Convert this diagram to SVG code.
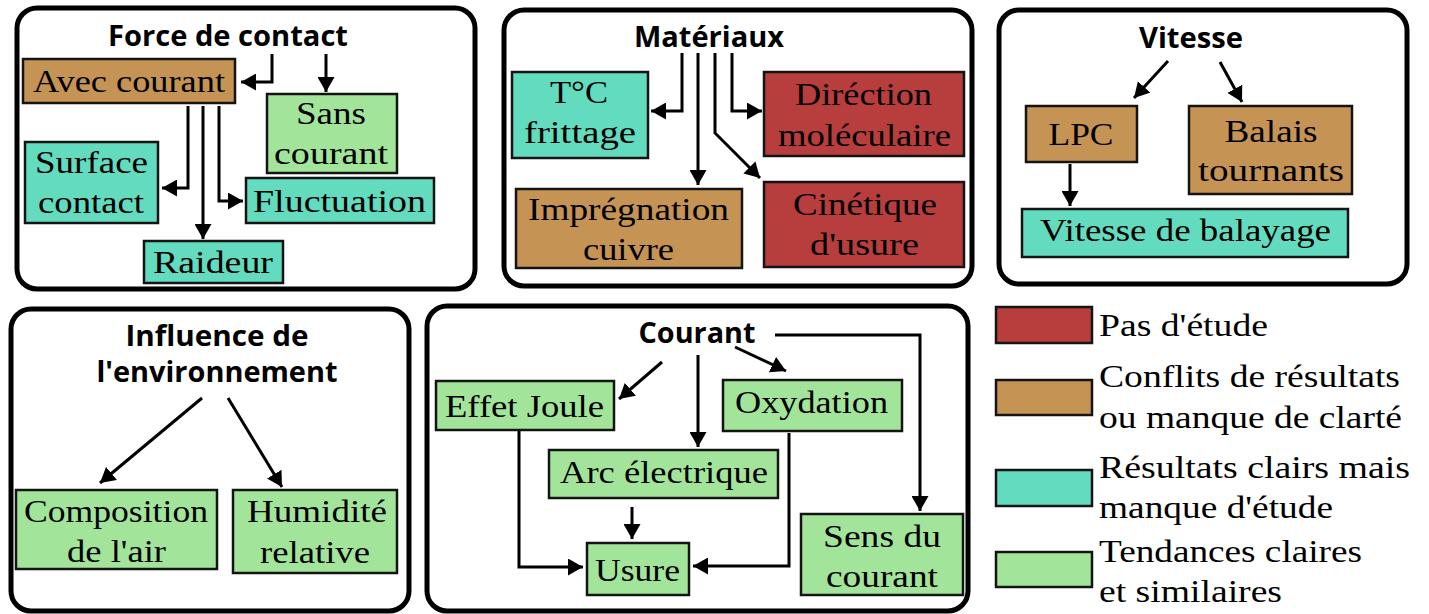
<svg xmlns="http://www.w3.org/2000/svg" width="1429" height="614" viewBox="0 0 1429 614">
<defs>
<style>
.panel{fill:#fff;stroke:#000;stroke-width:5}
.box{stroke:#141414;stroke-width:2.5}
.red{fill:#B83D3D}.brown{fill:#C59353}.teal{fill:#62DBBF}.green{fill:#A2E59A}
.t{font-family:"Liberation Serif","Times New Roman",serif;font-size:31px;fill:#000;text-anchor:middle}
.l{font-family:"Liberation Serif","Times New Roman",serif;font-size:31px;fill:#000}
.h{font-family:"Open Sans","Noto Sans","DejaVu Sans",sans-serif;font-size:28px;font-weight:700;fill:#000;text-anchor:middle}
.c{fill:none;stroke:#000;stroke-width:3;marker-end:url(#ah)}
</style>
<marker id="ah" markerUnits="userSpaceOnUse" markerWidth="16" markerHeight="17" refX="15" refY="8.5" orient="auto">
<path d="M0,0 L15,8.5 L0,17 z" fill="#000"/>
</marker>
</defs>
<rect width="1429" height="614" fill="#fff"/>

<g id="panel-force">
<rect class="panel" x="17" y="8" width="458" height="281" rx="20"/>
<text class="h" x="228" y="46" textLength="240" lengthAdjust="spacingAndGlyphs">Force de contact</text>
</g>
<g id="panel-materiaux">
<rect class="panel" x="504" y="10" width="468" height="276" rx="20"/>
<text class="h" x="709" y="47" textLength="150" lengthAdjust="spacingAndGlyphs">Matériaux</text>
</g>
<g id="panel-vitesse">
<rect class="panel" x="999" y="10" width="408" height="274" rx="20"/>
<text class="h" x="1191" y="48" textLength="104" lengthAdjust="spacingAndGlyphs">Vitesse</text>
</g>
<g id="panel-environnement">
<rect class="panel" x="11" y="309" width="398" height="302" rx="20"/>
<text class="h" x="217" y="346" textLength="183" lengthAdjust="spacingAndGlyphs">Influence de</text>
<text class="h" x="217" y="382" textLength="241" lengthAdjust="spacingAndGlyphs">l'environnement</text>
</g>
<g id="panel-courant">
<rect class="panel" x="427" y="306" width="541" height="305" rx="20"/>
<text class="h" x="697" y="343" textLength="117" lengthAdjust="spacingAndGlyphs">Courant</text>
</g>

<g id="n-avec-courant"><rect class="box brown" x="23" y="59" width="212" height="44"/><text class="t" x="129" y="92" textLength="192" lengthAdjust="spacingAndGlyphs">Avec courant</text></g>
<g id="n-sans-courant"><rect class="box green" x="267" y="94" width="130" height="79"/><text class="t" x="331" y="124" textLength="70" lengthAdjust="spacingAndGlyphs">Sans</text><text class="t" x="331" y="164" textLength="114" lengthAdjust="spacingAndGlyphs">courant</text></g>
<g id="n-surface-contact"><rect class="box teal" x="25" y="142" width="133" height="81"/><text class="t" x="91.5" y="173" textLength="113" lengthAdjust="spacingAndGlyphs">Surface</text><text class="t" x="91" y="213" textLength="106" lengthAdjust="spacingAndGlyphs">contact</text></g>
<g id="n-fluctuation"><rect class="box teal" x="246" y="178" width="188" height="45"/><text class="t" x="339.5" y="212" textLength="173" lengthAdjust="spacingAndGlyphs">Fluctuation</text></g>
<g id="n-raideur"><rect class="box teal" x="144" y="241" width="139" height="42"/><text class="t" x="213" y="273" textLength="120" lengthAdjust="spacingAndGlyphs">Raideur</text></g>

<g id="n-tc-frittage"><rect class="box teal" x="512" y="72" width="136" height="86"/><text class="t" x="579" y="103" textLength="58" lengthAdjust="spacingAndGlyphs">T°C</text><text class="t" x="580" y="143" textLength="112" lengthAdjust="spacingAndGlyphs">frittage</text></g>
<g id="n-direction"><rect class="box red" x="764" y="72" width="200" height="84"/><text class="t" x="863.5" y="105" textLength="137" lengthAdjust="spacingAndGlyphs">Diréction</text><text class="t" x="864.5" y="146" textLength="173" lengthAdjust="spacingAndGlyphs">moléculaire</text></g>
<g id="n-impregnation"><rect class="box brown" x="516" y="189" width="226" height="79"/><text class="t" x="628.5" y="220" textLength="201" lengthAdjust="spacingAndGlyphs">Imprégnation</text><text class="t" x="628.5" y="260" textLength="91" lengthAdjust="spacingAndGlyphs">cuivre</text></g>
<g id="n-cinetique"><rect class="box red" x="764" y="182" width="200" height="85"/><text class="t" x="865" y="215" textLength="144" lengthAdjust="spacingAndGlyphs">Cinétique</text><text class="t" x="864.5" y="255" textLength="109" lengthAdjust="spacingAndGlyphs">d'usure</text></g>

<g id="n-lpc"><rect class="box brown" x="1026" y="106" width="111" height="56"/><text class="t" x="1081" y="145" textLength="65" lengthAdjust="spacingAndGlyphs">LPC</text></g>
<g id="n-balais"><rect class="box brown" x="1189" y="106" width="163" height="88"/><text class="t" x="1271" y="142" textLength="93" lengthAdjust="spacingAndGlyphs">Balais</text><text class="t" x="1271" y="181" textLength="146" lengthAdjust="spacingAndGlyphs">tournants</text></g>
<g id="n-vitesse-balayage"><rect class="box teal" x="1022" y="209" width="326" height="48"/><text class="t" x="1185.5" y="241" textLength="291" lengthAdjust="spacingAndGlyphs">Vitesse de balayage</text></g>

<g id="n-composition"><rect class="box green" x="16" y="490" width="201" height="79"/><text class="t" x="116" y="522" textLength="184" lengthAdjust="spacingAndGlyphs">Composition</text><text class="t" x="116.5" y="562" textLength="99" lengthAdjust="spacingAndGlyphs">de l'air</text></g>
<g id="n-humidite"><rect class="box green" x="233" y="490" width="164" height="83"/><text class="t" x="317" y="522" textLength="140" lengthAdjust="spacingAndGlyphs">Humidité</text><text class="t" x="315" y="563" textLength="110" lengthAdjust="spacingAndGlyphs">relative</text></g>

<g id="n-effet-joule"><rect class="box green" x="436" y="381" width="178" height="49"/><text class="t" x="524.5" y="417" textLength="159" lengthAdjust="spacingAndGlyphs">Effet Joule</text></g>
<g id="n-arc"><rect class="box green" x="549" y="450" width="229" height="48"/><text class="t" x="664" y="483" textLength="208" lengthAdjust="spacingAndGlyphs">Arc électrique</text></g>
<g id="n-oxydation"><rect class="box green" x="723" y="380" width="179" height="51"/><text class="t" x="811.5" y="413" textLength="153" lengthAdjust="spacingAndGlyphs">Oxydation</text></g>
<g id="n-usure"><rect class="box green" x="587" y="543" width="102" height="52"/><text class="t" x="637.5" y="581" textLength="85" lengthAdjust="spacingAndGlyphs">Usure</text></g>
<g id="n-sens"><rect class="box green" x="801" y="514" width="162" height="81"/><text class="t" x="882" y="547" textLength="118" lengthAdjust="spacingAndGlyphs">Sens du</text><text class="t" x="882" y="587" textLength="112" lengthAdjust="spacingAndGlyphs">courant</text></g>

<g id="legend">
<rect class="box red" x="996" y="307" width="96" height="36"/>
<text class="l" x="1099" y="336" textLength="169" lengthAdjust="spacingAndGlyphs">Pas d'étude</text>
<rect class="box brown" x="996" y="380" width="96" height="35"/>
<text class="l" x="1099" y="387" textLength="301" lengthAdjust="spacingAndGlyphs">Conflits de résultats</text>
<text class="l" x="1099" y="428" textLength="303" lengthAdjust="spacingAndGlyphs">ou manque de clarté</text>
<rect class="box teal" x="996" y="470" width="96" height="36"/>
<text class="l" x="1099" y="478" textLength="311" lengthAdjust="spacingAndGlyphs">Résultats clairs mais</text>
<text class="l" x="1099" y="518" textLength="234" lengthAdjust="spacingAndGlyphs">manque d'étude</text>
<rect class="box green" x="996" y="552" width="96" height="35"/>
<text class="l" x="1099" y="562" textLength="263" lengthAdjust="spacingAndGlyphs">Tendances claires</text>
<text class="l" x="1099" y="602" textLength="183" lengthAdjust="spacingAndGlyphs">et similaires</text>
</g>

<g id="connectors">
<path class="c" d="M272,54 V82 H241"/>
<path class="c" d="M326,54 V92"/>
<path class="c" d="M188,106 V188 H162"/>
<path class="c" d="M203,106 V239"/>
<path class="c" d="M219,106 V201 H243"/>
<path class="c" d="M682,53 V111 H651"/>
<path class="c" d="M698,53 V185"/>
<path class="c" d="M715,53 V133 L760,178"/>
<path class="c" d="M732,53 V111 H762"/>
<path class="c" d="M1168,61 L1134,98"/>
<path class="c" d="M1220,62 L1242,102"/>
<path class="c" d="M1070,164 V206"/>
<path class="c" d="M202,398 L100,483"/>
<path class="c" d="M228,398 L282,487"/>
<path class="c" d="M662,362 L619,399"/>
<path class="c" d="M698,355 V447"/>
<path class="c" d="M735,347 L786,371"/>
<path class="c" d="M775,335 H920 V511"/>
<path class="c" d="M632,507 V539"/>
<path class="c" d="M519,431 V567 H583"/>
<path class="c" d="M789,433 V566 H693"/>
</g>
</svg>
